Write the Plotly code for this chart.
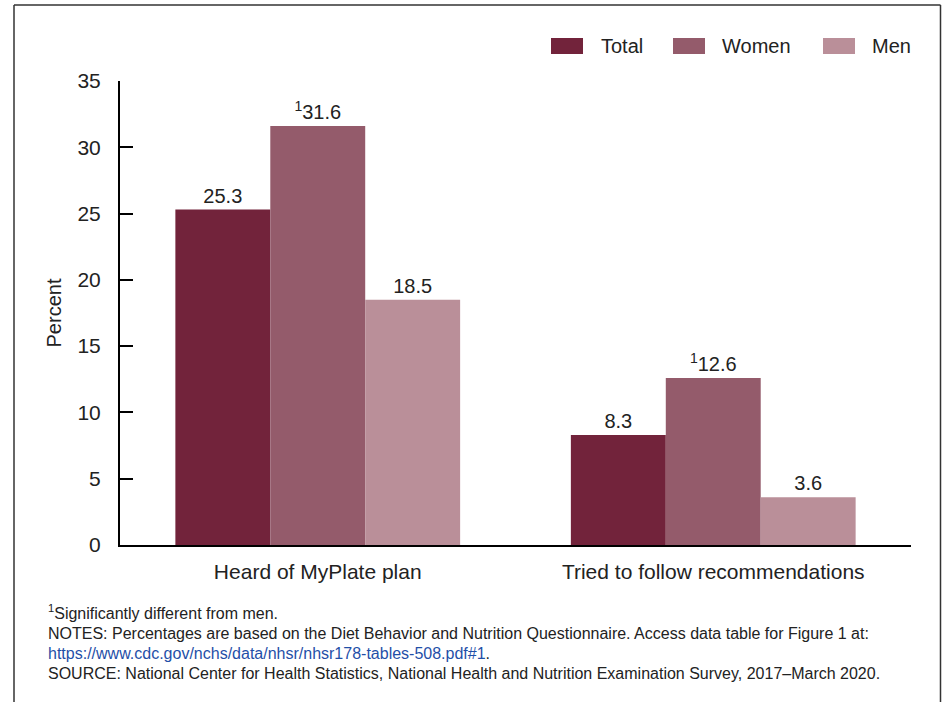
import plotly.graph_objects as go

categories = ["Heard of MyPlate plan", "Tried to follow recommendations"]
series_names = ["Total", "Women", "Men"]
total = [25.3, 8.3]
women = [31.6, 12.6]
men = [18.5, 3.6]
significant = {"Women": [True, True], "Total": [False, False], "Men": [False, False]}
colors = {"Total": "#72233B", "Women": "#945B6B", "Men": "#BA8F99"}
y_ticks = [0, 5, 10, 15, 20, 25, 30, 35]

FONT = "Liberation Sans, Arial, sans-serif"
TXT = "#222222"

fig = go.Figure()
for name, vals in zip(series_names, [total, women, men]):
    labels = [("<sup>1</sup>" if s else "") + f"{v:.1f}" for v, s in zip(vals, significant[name])]
    fig.add_trace(go.Bar(
        name=name, x=categories, y=vals,
        marker=dict(color=colors[name], line=dict(width=0)),
        text=labels, textposition="outside", textangle=0,
        textfont=dict(family=FONT, size=20, color=TXT),
        cliponaxis=False, showlegend=False, hoverinfo="skip",
    ))

L, R, T, B = 120, 32, 81, 157
W, H = 943, 702
pw, ph = W - L - R, H - T - B

def px(x):
    return (x - L) / pw

def py(y):
    return (H - B - y) / ph

shapes = []
annotations = []
# custom legend
leg_sw = [551, 673, 823]
leg_tx = [599, 720, 870]
for name, sx, tx in zip(series_names, leg_sw, leg_tx):
    shapes.append(dict(type="rect", xref="paper", yref="paper",
                       x0=px(sx), x1=px(sx + 32), y0=py(54), y1=py(38),
                       fillcolor=colors[name], line=dict(width=0)))
    annotations.append(dict(text=name, xref="paper", yref="paper", x=px(tx), y=py(46),
                            xanchor="left", yanchor="middle", showarrow=False,
                            font=dict(family=FONT, size=20, color=TXT)))

# frame (left, top, right)
bc = "#333333"
shapes.append(dict(type="line", xref="paper", yref="paper", x0=px(14), x1=px(14), y0=py(5), y1=py(720), line=dict(color=bc, width=1.5)))
shapes.append(dict(type="line", xref="paper", yref="paper", x0=px(14), x1=px(940.5), y0=py(5), y1=py(5), line=dict(color=bc, width=1.5)))
shapes.append(dict(type="line", xref="paper", yref="paper", x0=px(940.5), x1=px(940.5), y0=py(5), y1=py(720), line=dict(color=bc, width=1.5)))

notes = [
    (612, "<sup>1</sup>Significantly different from men."),
    (633, "NOTES: Percentages are based on the Diet Behavior and Nutrition Questionnaire. Access data table for Figure 1 at:"),
    (653, "<span style='color:#1F4FA8'>https://www.cdc.gov/nchs/data/nhsr/nhsr178-tables-508.pdf#1</span>."),
    (673, "SOURCE: National Center for Health Statistics, National Health and Nutrition Examination Survey, 2017–March 2020."),
]
for yy, t in notes:
    annotations.append(dict(text=t, xref="paper", yref="paper", x=px(46), y=py(yy),
                            xanchor="left", yanchor="middle", showarrow=False,
                            font=dict(family=FONT, size=16, color=TXT)))

fig.update_layout(
    width=W, height=H,
    margin=dict(l=L, r=R, t=T, b=B, pad=0),
    paper_bgcolor="white", plot_bgcolor="white",
    barmode="group", bargap=0.28, bargroupgap=0,
    font=dict(family=FONT, size=20, color=TXT),
    shapes=shapes, annotations=annotations,
    xaxis=dict(showline=True, linecolor="black", linewidth=2, ticks="",
               showgrid=False, zeroline=False, range=[-0.5, 1.5],
               tickfont=dict(family=FONT, size=21, color=TXT), ticklabelstandoff=7),
    yaxis=dict(range=[0, 35], tickvals=y_ticks, showline=True, linecolor="black", linewidth=2,
               ticks="inside", ticklen=13, tickwidth=2, tickcolor="black",
               showgrid=False, zeroline=False,
               tickfont=dict(family=FONT, size=21, color=TXT), ticklabelstandoff=13,
               title=dict(text="Percent", font=dict(family=FONT, size=20, color=TXT), standoff=10)),
)

fig.write_html("out.html")
